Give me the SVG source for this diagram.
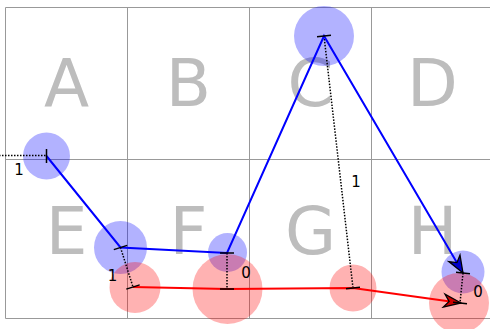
<svg xmlns="http://www.w3.org/2000/svg" width="490" height="329" viewBox="0 0 490 329">
<style>
.grid{stroke:#999;stroke-width:1;fill:none}
.cell{font-family:"DejaVu Sans",sans-serif;font-size:66px;fill:#bdbdbd;text-anchor:middle}
.bc{fill:#0000ff;fill-opacity:0.3}
.rc{fill:#ff0000;fill-opacity:0.3}
.dot{stroke:#000;stroke-width:1.5;stroke-dasharray:1.5,1.5;fill:none}
.tick{stroke:#000;stroke-width:1.5}
.lbl{font-family:"DejaVu Sans",sans-serif;font-size:15px;fill:#000;text-anchor:middle}
</style>
<defs>
<marker id="ab" markerUnits="userSpaceOnUse" viewBox="-19 -8 21 16" markerWidth="21" markerHeight="16" refX="0" refY="0" orient="auto">
<path d="M0,0 L-17,-6.5 L-12,0 L-17,6.5 Z" fill="#0000cc" stroke="#000" stroke-width="1.3"/>
</marker>
<marker id="ar" markerUnits="userSpaceOnUse" viewBox="-19 -8 21 16" markerWidth="21" markerHeight="16" refX="0" refY="0" orient="auto">
<path d="M0,0 L-17,-6.5 L-12,0 L-17,6.5 Z" fill="#cc0000" stroke="#000" stroke-width="1.3"/>
</marker>
</defs>
<g id="grid">
<path class="grid" d="M5.5,7.5H490M5.5,159.5H490M5.5,318.5H490M5.5,7.5V318.5M127.5,7.5V318.5M249.5,7.5V318.5M371.5,7.5V318.5"/>
<text class="cell" x="66.5" y="106">A</text>
<text class="cell" x="188.5" y="106">B</text>
<text class="cell" x="310.5" y="106">C</text>
<text class="cell" x="432.5" y="106">D</text>
<text class="cell" x="66.5" y="254">E</text>
<text class="cell" x="188.5" y="254">F</text>
<text class="cell" x="310.5" y="254">G</text>
<text class="cell" x="432.5" y="254">H</text>
</g>
<g id="circles">
<circle id="bA" class="bc" cx="46.5" cy="156" r="23.5"/>
<circle id="bE" class="bc" cx="120.5" cy="247.5" r="26.5"/>
<circle id="bF" class="bc" cx="227.5" cy="252.5" r="19.5"/>
<circle id="bC" class="bc" cx="324" cy="36" r="30"/>
<circle id="bH" class="bc" cx="463" cy="272" r="21.5"/>
<circle id="rE" class="rc" cx="135" cy="287.5" r="25.5"/>
<circle id="rF" class="rc" cx="227.5" cy="289" r="35"/>
<circle id="rG" class="rc" cx="353" cy="288" r="23.5"/>
<circle id="rH" class="rc" cx="459" cy="303" r="30"/>
</g>
<g id="connectors">
<path class="dot" d="M-10,155.5L46.5,155.5"/>
<path class="dot" d="M120.5,247.5L133,287"/>
<path class="dot" d="M227,253L227,289"/>
<path class="dot" d="M324,36L353,288"/>
<path class="dot" d="M463,273L460,303"/>
<polyline fill="none" stroke="#0000ff" stroke-width="2" points="46.5,156 120.5,247.5 227,253 324,36 463,273" marker-end="url(#ab)"/>
<polyline fill="none" stroke="#ff0000" stroke-width="2" points="133,287 227,289 353,288 461,303" marker-end="url(#ar)"/>
<path class="tick" d="M46.5,149V163M113.8,249.6L127.2,245.4M126.3,289.1L139.7,284.9M220,253H234M220,289H234M317,36.8L331,35.2M346,288.8L360,287.2M456,272.3L470,273.7M453,302.3L467,303.7"/>
</g>
<g id="labels">
<text class="lbl" x="19" y="175">1</text>
<text class="lbl" x="112.5" y="281">1</text>
<text class="lbl" x="246" y="278">0</text>
<text class="lbl" x="356" y="187">1</text>
<text class="lbl" x="478" y="296.5">0</text>
</g>
</svg>
